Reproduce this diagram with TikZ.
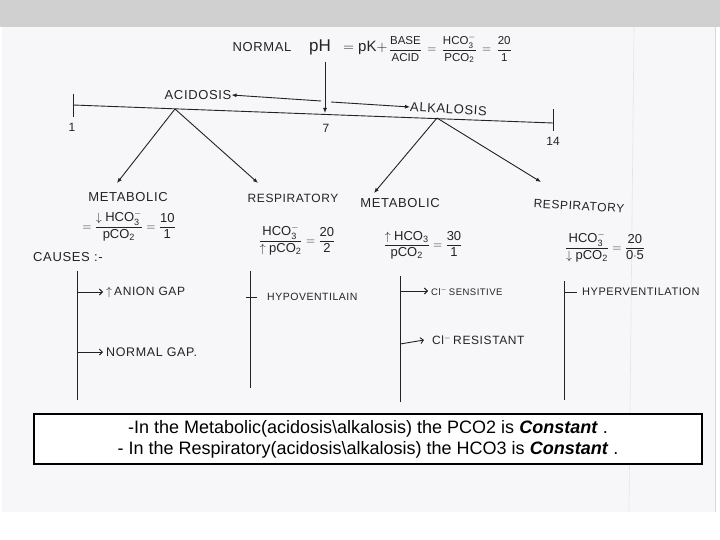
\documentclass[tikz,border=0pt]{standalone}
\usepackage{amsmath}
\usepackage{fontspec}
\setmainfont{Liberation Sans}
\setsansfont{Liberation Sans}
\newfontfamily\handfont[LetterSpace=5]{Liberation Sans}
\usepackage{tikz}
\usetikzlibrary{arrows.meta,calc}

\definecolor{scanpaper}{RGB}{247,247,250}
\definecolor{slidegray}{RGB}{208,208,208}
\definecolor{pencil}{RGB}{35,35,35}

\begin{document}
\begin{tikzpicture}[
    x=1pt, y=-1pt,
    pen/.style = {
        draw=pencil,
        line width=0.9pt
    },
    label_text/.style = {
        inner sep=0pt,
        text=pencil,
        font=\handfont\fontsize{13}{15}\selectfont
    },
    cause_text/.style = {
        label_text,
        anchor=west,
        font=\handfont\fontsize{12}{14}\selectfont
    },
    ratio/.style = {
        inner sep=0pt,
        text=pencil,
        font=\fontsize{13}{15}\selectfont
    },
    arrow/.style = {
        pen,
        -{Latex[length=5pt,width=4pt]}
    },
    cause_arrow/.style = {
        pen,
        -{Straight Barb[length=3pt,width=6pt]}
    },
    note/.style = {
        rectangle,
        draw=black,
        line width=2.7pt,
        fill=white,
        minimum width=668pt,
        minimum height=50pt,
        align=center,
        font=\fontsize{18}{21}\selectfont
    }
]

    % Page
    \useasboundingbox (0,0) rectangle (720,540);
    \fill[white] (0,0) rectangle (720,540);
    \fill[slidegray] (0,0) rectangle (720,27);
    \fill[scanpaper] (2,27) rectangle (715,512);
    \draw[black!10, line width=0.6pt] (634,27) -- (629,512);
    \draw[black!15, line width=1pt] (715,27) -- (715,512);

    % Node Definitions
    \node [label_text] (normal) at (262,47) {NORMAL};
    \node [label_text, font=\fontsize{17}{19}\selectfont] (ph) at (320,47) {pH};
    \node [ratio, anchor=west, font=\fontsize{15}{17}\selectfont] (pk) at (343,48)
        {$=\mathsf{pK}{+}$};
    \node [ratio, anchor=west, font=\fontsize{11.5}{13}\selectfont] (formula) at ([xshift=1pt]pk.east |- 0,49)
        {$\dfrac{\mathsf{BASE}}{\mathsf{ACID}}\,=\,\dfrac{\mathsf{HCO_3^-}}{\mathsf{PCO_2}}\,=\,\dfrac{\mathsf{20}}{\mathsf{1}}$};

    \coordinate (one) at (73,105);
    \coordinate (seven) at (325,113);
    \coordinate (fourteen) at (553,123);
    \coordinate (acid_from) at (321,101);
    \coordinate (alk_from) at (331,102);
    \coordinate (acid_apex) at (175,109);
    \coordinate (alk_apex) at (437,118);

    \node [label_text, font=\fontsize{12}{14}\selectfont] (one_lbl) at (72,127) {1};
    \node [label_text, font=\fontsize{12}{14}\selectfont] (seven_lbl) at (326,128) {7};
    \node [label_text, font=\fontsize{12}{14}\selectfont] (fourteen_lbl) at (553,141) {14};

    \node [label_text] (acid) at (198,95) {ACIDOSIS};
    \node [label_text, anchor=west, rotate=-3] (alk) at (410,107) {ALKALOSIS};

    \node [label_text] (lmet) at (128,197) {METABOLIC};
    \node [label_text, font=\handfont\fontsize{12}{14}\selectfont] (lresp) at (293,198) {RESPIRATORY};
    \node [label_text] (rmet) at (400,203) {METABOLIC};
    \node [label_text, rotate=-3, font=\handfont\fontsize{12}{14}\selectfont] (rresp) at (579,206) {RESPIRATORY};

    \node [ratio] (lmet_ratio) at (129,226)
        {$=\dfrac{\downarrow\mathsf{HCO_3^-}}{\mathsf{pCO_2}}=\dfrac{\mathsf{10}}{\mathsf{1}}$};
    \node [ratio] (lresp_ratio) at (297,240)
        {$\dfrac{\mathsf{HCO_3^-}}{\uparrow\mathsf{pCO_2}}=\dfrac{\mathsf{20}}{\mathsf{2}}$};
    \node [ratio] (rmet_ratio) at (423,245)
        {$\dfrac{\uparrow\mathsf{HCO_3}}{\mathsf{pCO_2}}=\dfrac{\mathsf{30}}{\mathsf{1}}$};
    \node [ratio] (rresp_ratio) at (605,247)
        {$\dfrac{\mathsf{HCO_3^-}}{\downarrow\mathsf{pCO_2}}=\dfrac{\mathsf{20}}{\mathsf{0{\cdot}5}}$};

    \node [label_text] (causes) at (68,257) {CAUSES :-};

    \coordinate (lmet_top) at (77,271);
    \coordinate (lmet_bot) at (77,400);
    \coordinate (lresp_top) at (250,271);
    \coordinate (lresp_bot) at (250,388);
    \coordinate (rmet_top) at (400,276);
    \coordinate (rmet_bot) at (400,402);
    \coordinate (rresp_top) at (564,281);
    \coordinate (rresp_bot) at (564,400);

    \node [cause_text] (anion) at (106,292) {$\uparrow$\,ANION GAP};
    \node [cause_text, font=\handfont\fontsize{12.5}{14}\selectfont] (normal_gap) at (106,352) {NORMAL GAP.};
    \node [cause_text, font=\handfont\fontsize{10.5}{12}\selectfont] (hypo) at (267,297) {HYPOVENTILAIN};
    \node [cause_text, font=\handfont\fontsize{9.5}{12}\selectfont] (sens) at (431,291) {Cl$^{-}$\,SENSITIVE};
    \node [cause_text] (resist) at (432,340) {Cl$^{-}$\,RESISTANT};
    \node [cause_text, font=\handfont\fontsize{11}{13}\selectfont] (hyper) at (582,292) {HYPERVENTILATION};

    \node [note] (summary) at (368,439) {%
        -In the Metabolic(acidosis\textbackslash alkalosis) the PCO2 is \textbf{\textit{Constant}} .\\
        - In the Respiratory(acidosis\textbackslash alkalosis) the HCO3 is \textbf{\textit{Constant}} .};

    % Scale and arrows connecting nodes
    \draw [pen] (one) -- (fourteen);
    \draw [pen] ($(one)+(0,-11)$) -- ($(one)+(0,12)$);
    \draw [pen] ($(fourteen)+(0,-14)$) -- ($(fourteen)+(0,8)$);
    \draw [arrow, shorten <=7pt] (ph.south -| seven) -- (seven);
    \draw [arrow] (acid_from) -- (acid.east);
    \draw [arrow] (alk_from) -- (alk.west);

    \draw [arrow] (acid_apex) -- (117,183);
    \draw [arrow] (acid_apex) -- (258,183);
    \draw [arrow] (alk_apex) -- (374,193);
    \draw [arrow] (alk_apex) -- (541,182);

    \draw [pen] (lmet_top) -- (lmet_bot);
    \draw [pen] (lresp_top) -- (lresp_bot);
    \draw [pen] (rmet_top) -- (rmet_bot);
    \draw [pen] (rresp_top) -- (rresp_bot);

    \draw [cause_arrow] (anion.west -| lmet_top) -- ([xshift=-3pt]anion.west);
    \draw [cause_arrow] (normal_gap.west -| lmet_top) -- ([xshift=-3pt]normal_gap.west);
    \draw [cause_arrow] (sens.west -| rmet_top) -- ([xshift=-3pt]sens.west);
    \draw [cause_arrow] ($(resist.west -| rmet_top)+(0,4)$) -- ([xshift=-8pt]resist.west);
    \draw [pen] ($(hypo.west -| lresp_top)+(-4,0)$) -- ($(hypo.west -| lresp_top)+(7,0)$);
    \draw [pen] (hyper.west -| rresp_top) -- ([xshift=-5pt]hyper.west);

\end{tikzpicture}
\end{document}
